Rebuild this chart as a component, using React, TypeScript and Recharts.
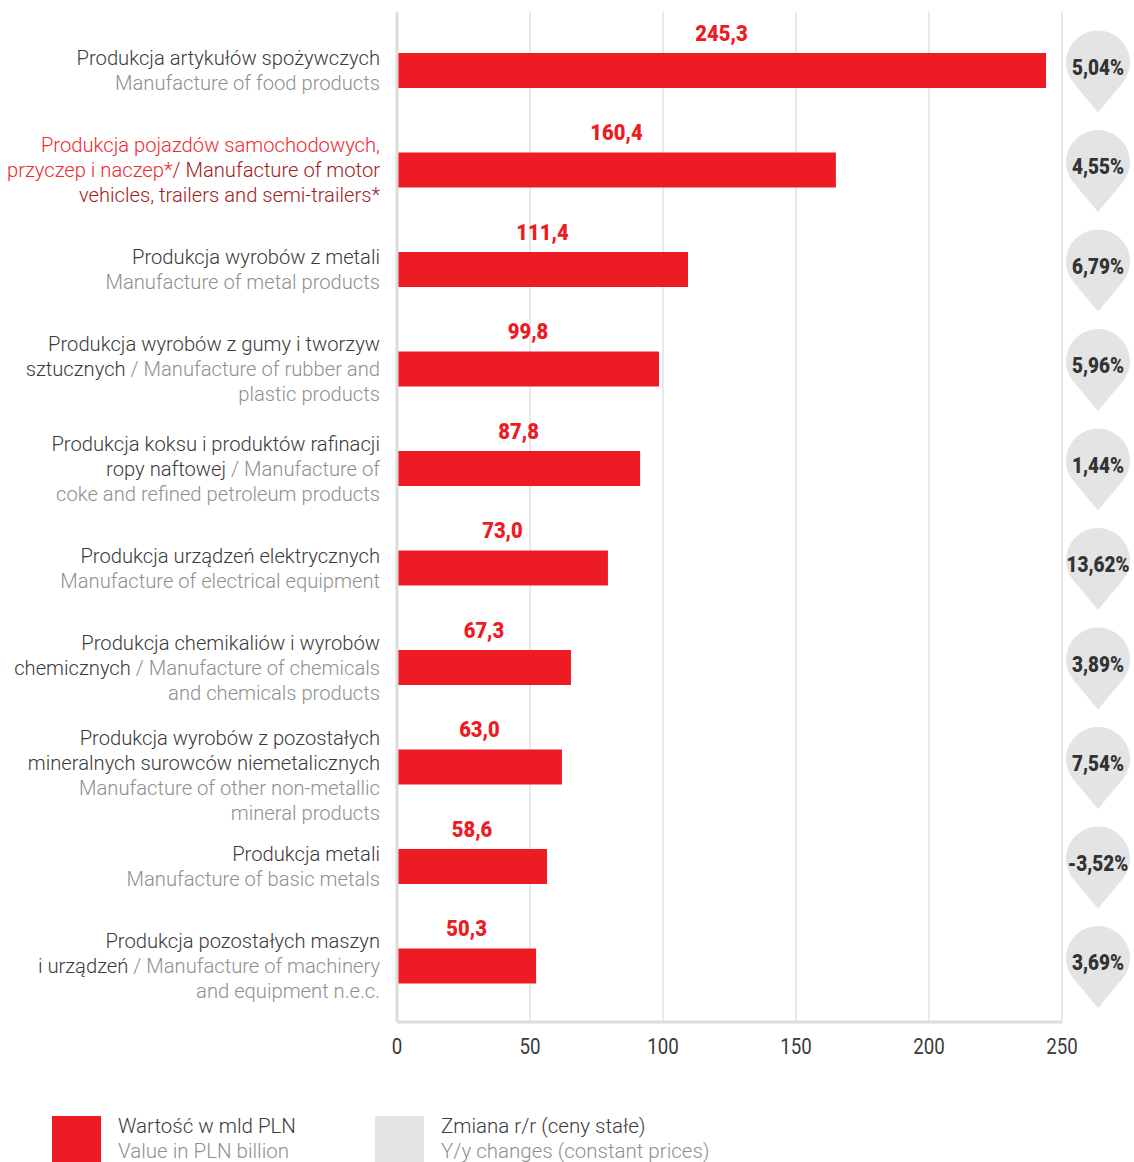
import React from "react";
import { BarChart, Bar, XAxis, YAxis, CartesianGrid, LabelList } from "recharts";

type Tone = "pl" | "en" | "plRed" | "enRed";
type Seg = [string, Tone];

const categoryLabels: Seg[][][] = [
  [[["Produkcja artykułów spożywczych", "pl"]], [["Manufacture of food products", "en"]]],
  [
    [["Produkcja pojazdów samochodowych,", "plRed"]],
    [["przyczep i naczep*", "plRed"], ["/ Manufacture of motor", "enRed"]],
    [["vehicles, trailers and semi-trailers*", "enRed"]],
  ],
  [[["Produkcja wyrobów z metali", "pl"]], [["Manufacture of metal products", "en"]]],
  [
    [["Produkcja wyrobów z gumy i tworzyw", "pl"]],
    [["sztucznych", "pl"], [" / Manufacture of rubber and", "en"]],
    [["plastic products", "en"]],
  ],
  [
    [["Produkcja koksu i produktów rafinacji", "pl"]],
    [["ropy naftowej", "pl"], [" / Manufacture of", "en"]],
    [["coke and refined petroleum products", "en"]],
  ],
  [[["Produkcja urządzeń elektrycznych", "pl"]], [["Manufacture of electrical equipment", "en"]]],
  [
    [["Produkcja chemikaliów i wyrobów", "pl"]],
    [["chemicznych", "pl"], [" / Manufacture of chemicals", "en"]],
    [["and chemicals products", "en"]],
  ],
  [
    [["Produkcja wyrobów z pozostałych", "pl"]],
    [["mineralnych surowców niemetalicznych", "pl"]],
    [["Manufacture of other non-metallic", "en"]],
    [["mineral products", "en"]],
  ],
  [[["Produkcja metali", "pl"]], [["Manufacture of basic metals", "en"]]],
  [
    [["Produkcja pozostałych maszyn", "pl"]],
    [["i urządzeń", "pl"], [" / Manufacture of machinery", "en"]],
    [["and equipment n.e.c.", "en"]],
  ],
];

// bar lengths as drawn in the picture
const barValues = [244.0, 165.0, 109.4, 98.5, 91.4, 79.3, 65.4, 62.0, 56.4, 52.3];
// printed value labels
const valueLabels = ["245,3", "160,4", "111,4", "99,8", "87,8", "73,0", "67,3", "63,0", "58,6", "50,3"];
// year-over-year change labels
const changeLabels = ["5,04%", "4,55%", "6,79%", "5,96%", "1,44%", "13,62%", "3,89%", "7,54%", "-3,52%", "3,69%"];
const xTicks = [0, 50, 100, 150, 200, 250];

const data = barValues.map((v, i) => ({
  id: String(i),
  value: v,
  label: valueLabels[i],
  change: changeLabels[i],
}));

const RED = "#ed1c24";
const BUBBLE = "#e3e4e5";
const toneColor: Record<Tone, string> = {
  pl: "#3a3a3a",
  en: "#8f8f8f",
  plRed: "#ee2a2f",
  enRed: "#a01c22",
};
const LABEL_FONT = "Roboto, 'Noto Sans', sans-serif";
const COND_FONT = "Roboto, 'Noto Sans', sans-serif";

const CategoryTick = (props: any) => {
  const { x, y, payload } = props;
  const lines = categoryLabels[Number(payload.value)] || [];
  const lh = 25;
  const n = lines.length;
  const shift = n === 4 ? 8 : 0;
  const tx = x - 9;
  return (
    <text x={tx} y={y} textAnchor="end" fontFamily={LABEL_FONT} fontWeight={300} fontSize={20.2}>
      {lines.map((line, li) => (
        <tspan key={li} x={tx} y={y + shift + (li - (n - 1) / 2) * lh} dominantBaseline="central">
          {line.map((seg, si) => (
            <tspan key={si} fill={toneColor[seg[1]]}>
              {seg[0]}
            </tspan>
          ))}
        </tspan>
      ))}
    </text>
  );
};

const XTick = (props: any) => {
  const { x, y, payload } = props;
  return (
    <text
      transform={`translate(${x},${y + 16}) scale(0.85,1)`}
      textAnchor="middle"
      dominantBaseline="central"
      fontFamily={COND_FONT}
      fontSize={22}
      fill="#3a3a3a"
    >
      {payload.value}
    </text>
  );
};

const ValueLabel = (props: any) => {
  const { x, y, width, value } = props;
  return (
    <text
      transform={`translate(${x + width / 2},${y - 20}) scale(0.92,1)`}
      textAnchor="middle"
      dominantBaseline="central"
      fontFamily={COND_FONT}
      fontWeight={900}
      fontSize={22}
      fill={RED}
    >
      {value}
    </text>
  );
};

const BUBBLE_X = 1098;
const ChangeBubble = (props: any) => {
  const { y, height, value } = props;
  const bc = y + height / 2;
  const cx = BUBBLE_X;
  const cy = bc - 8;
  const r = 32;
  const tipY = bc + 42;
  const d = tipY - cy;
  const cosT = r / d;
  const sinT = Math.sqrt(1 - cosT * cosT);
  const tx = r * sinT;
  const ty = r * cosT;
  const path = `M ${cx} ${tipY} L ${cx + tx} ${cy + ty} A ${r} ${r} 0 1 0 ${cx - tx} ${cy + ty} Z`;
  return (
    <g>
      <path d={path} fill={BUBBLE} />
      <text
        transform={`translate(${cx},${bc - 3}) scale(0.88,1)`}
        textAnchor="middle"
        dominantBaseline="central"
        fontFamily={COND_FONT}
        fontWeight={900}
        fontSize={21.5}
        fill="#333333"
      >
        {value}
      </text>
    </g>
  );
};

export default function App() {
  return (
    <div style={{ position: "absolute", left: 0, top: 0, width: 1134, height: 1162, background: "#fff", overflow: "hidden" }}>
      <BarChart
        width={1134}
        height={1070}
        data={data}
        layout="vertical"
        margin={{ top: 12, right: 72, bottom: 8, left: 0 }}
        barSize={35}
      >
        <CartesianGrid horizontal={false} vertical={true} stroke="#e2e2e2" strokeWidth={1.5} />
        <XAxis
          type="number"
          domain={[0, 250]}
          ticks={xTicks}
          axisLine={{ stroke: "#dcdcdc", strokeWidth: 3 }}
          tickLine={false}
          tick={<XTick />}
          height={40}
          interval={0}
        />
        <YAxis
          type="category"
          dataKey="id"
          width={397}
          axisLine={{ stroke: "#dcdcdc", strokeWidth: 3 }}
          tickLine={false}
          tick={<CategoryTick />}
          interval={0}
          padding={{ top: 9, bottom: 6 }}
        />
        <Bar dataKey="value" fill={RED} isAnimationActive={false}>
          <LabelList dataKey="label" content={<ValueLabel />} />
          <LabelList dataKey="change" content={<ChangeBubble />} />
        </Bar>
      </BarChart>
      <div style={{ position: "absolute", left: 52, top: 1116, width: 49, height: 46, background: RED }} />
      <div style={{ position: "absolute", left: 375, top: 1116, width: 49, height: 46, background: BUBBLE }} />
      <div style={{ position: "absolute", left: 118, top: 1114, fontFamily: COND_FONT, fontWeight: 300, fontSize: 20.5, lineHeight: "25px" }}>
        <div style={{ color: "#3a3a3a" }}>Wartość w mld PLN</div>
        <div style={{ color: "#8f8f8f" }}>Value in PLN billion</div>
      </div>
      <div style={{ position: "absolute", left: 441, top: 1114, fontFamily: COND_FONT, fontWeight: 300, fontSize: 20.5, lineHeight: "25px" }}>
        <div style={{ color: "#3a3a3a" }}>Zmiana r/r (ceny stałe)</div>
        <div style={{ color: "#8f8f8f" }}>Y/y changes (constant prices)</div>
      </div>
    </div>
  );
}
